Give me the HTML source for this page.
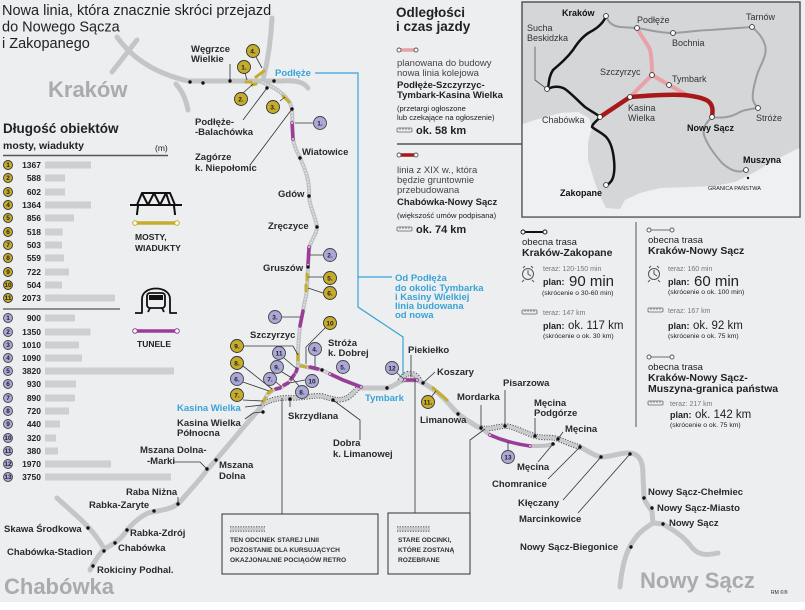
<!DOCTYPE html>
<html><head><meta charset="utf-8"><style>
html,body{margin:0;padding:0;background:#eceef0}
svg{display:block}
text{font-family:"Liberation Sans",sans-serif;fill:#222}
.b{font-weight:bold}
.lb{font-weight:bold;font-size:9.5px;fill:#2a2a2a}
.cy{font-weight:bold;font-size:9.5px;fill:#3aa3d6}
.big{font-weight:bold;font-size:22px;fill:#a9abad}
.sm{font-size:7px;fill:#777}
.lg{font-size:9.5px;fill:#444}
.im{font-size:9px;fill:#333}
.ib{font-size:9px;font-weight:bold;fill:#111}
.bx{font-size:6.6px;font-weight:bold;fill:#333}
.old{fill:none;stroke:#c3c5c7;stroke-width:5;stroke-linecap:round;stroke-linejoin:round}
.nw1{fill:none;stroke:#bfc1c3;stroke-width:4;stroke-linecap:round}
.nw2{fill:none;stroke:#e8e9ea;stroke-width:1.5;stroke-dasharray:1.5 1.5}
.dsA{fill:none;stroke:#555;stroke-width:5.5;stroke-dasharray:1.3 1.3}
.dsB{fill:none;stroke:#c9cbcd;stroke-width:3.6}
.tun{fill:none;stroke:#9a3d98;stroke-width:3.5;stroke-linecap:round}
.brg{fill:none;stroke:#c6ac2c;stroke-width:3;stroke-linecap:round}
.ld{fill:none;stroke:#333;stroke-width:0.8}
.cb{fill:#c6ac2c;stroke:#333;stroke-width:0.9}
.ct{fill:#aaa8d8;stroke:#444;stroke-width:0.9}
.cn{font-size:6.5px;font-weight:bold;text-anchor:middle;fill:#222}
.rn{font-size:8.5px;font-weight:bold;text-anchor:end;fill:#222}
.bar{fill:#cdcfd1}
.dot{fill:#111}
</style></head><body>
<svg width="805" height="610" viewBox="0 0 805 610" xmlns="http://www.w3.org/2000/svg">
<rect width="805" height="610" fill="#eceef0"/>
<rect y="602" width="805" height="8" fill="#ffffff"/>

<!-- Title -->
<text x="2" y="15" font-size="14.5" fill="#333">Nowa linia, która znacznie skróci przejazd</text>
<text x="2" y="31.5" font-size="14.5" fill="#333">do Nowego Sącza</text>
<text x="2" y="48" font-size="14.5" fill="#333">i Zakopanego</text>

<!-- Kraków area roads -->
<path class="old" d="M117,37 C130,55 150,72 188,81 L280,81 C296,80 304,82 308,88"/>
<path class="old" d="M137,40 L112,72" stroke-width="4"/>
<path class="old" d="M176,84 C183,92 186,100 188,110" stroke-width="3.5"/>
<path class="old" d="M272,18 C271,40 268,60 263,80"/>
<text x="48" y="97" class="big">Kraków</text>

<!-- Old line Kasina - Chabówka -->
<path class="old" d="M263,404 C255,415 245,425 237,435 L215,461 L207,470 C200,480 190,490 180,502 C172,510 160,510 148,513 C138,518 130,526 125,533 C120,540 112,545 104,549 C98,556 94,562 90,570"/>
<path class="old" d="M57,498 C70,510 85,522 95,535 C100,542 103,546 104,549"/>

<!-- Old line Tymbark - Nowy Sącz -->
<path class="old" d="M358,388 L387,388 C393,387 398,382 404,380 L417,380 L423,383 C433,388 443,397 450,405 C455,411 460,416 470,422 C476,426 479,428 481,428"/>
<path class="old" d="M580,447 C588,451 595,456 601,457 C612,457 622,452 630,453 C640,454 643,462 643,475 L644,498 C646,505 651,508 652,512 L653,523 L663,524 C673,530 683,536 690,545 C697,555 705,556 718,553"/>
<path class="old" d="M653,523 C645,528 638,533 632,543 C626,552 622,565 620,587"/>

<!-- old sections to be removed (dashed) -->
<path class="dsA" d="M263,404 C270,400 280,397 290,398 C305,398 313,395 322,396 C330,398 338,402 347,398 C352,395 356,390 358,388"/>
<path class="dsB" d="M263,404 C270,400 280,397 290,398 C305,398 313,395 322,396 C330,398 338,402 347,398 C352,395 356,390 358,388"/>
<path class="dsA" d="M400,381 C405,371 415,371 420,381"/>
<path class="dsB" d="M400,381 C405,371 415,371 420,381"/>
<path class="dsA" d="M481,428 C490,430 498,426 506,426 C515,427 525,433 535,436 C545,439 550,436 558,439 C566,442 572,445 580,447"/>
<path class="dsB" d="M481,428 C490,430 498,426 506,426 C515,427 525,433 535,436 C545,439 550,436 558,439 C566,442 572,445 580,447"/>

<!-- New line -->
<g>
<path class="nw1" d="M262,82 C275,88 283,92 290,103 L292,109 L293,139 C295,150 299,155 301,160 C305,170 310,180 309,196 C309,205 315,215 317,227 C317,235 310,240 309,250 L308,267 L307,290 C306,298 304,303 303,311 L300,326 C299,335 298,345 298,357 L298,365"/>
<path class="nw2" d="M262,82 C275,88 283,92 290,103 L292,109 L293,139 C295,150 299,155 301,160 C305,170 310,180 309,196 C309,205 315,215 317,227 C317,235 310,240 309,250 L308,267 L307,290 C306,298 304,303 303,311 L300,326 C299,335 298,345 298,357 L298,365"/>
<path class="nw1" d="M298,365 L307,367 L322,370 L328,373 L343,380 L362,387"/>
<path class="nw2" d="M298,365 L307,367 L322,370 L328,373 L343,380 L362,387"/>
<path class="nw1" d="M298,365 L297,370 L293,377 L288,383 L282,387 L273,390 L267,395 L263,403"/>
<path class="nw2" d="M298,365 L297,370 L293,377 L288,383 L282,387 L273,390 L267,395 L263,403"/>
<path class="nw1" d="M481,428 L490,435 M530,446 C540,446 548,446 553,444"/>
</g>

<!-- tunnels -->
<path class="tun" d="M292,123 L293,139"/>
<path class="tun" d="M309,247 L308,265"/>
<path class="tun" d="M303,311 L300,326"/>
<path class="tun" d="M310,367 L318,369"/>
<path class="tun" d="M330,374 L343,380 L361,387"/>
<path class="tun" d="M297,369 L296,372"/>
<path class="tun" d="M294,375 L291,379"/>
<path class="tun" d="M288,383 L284,385"/>
<path class="tun" d="M280,388 L276,389"/>
<path class="tun" d="M405,380 L417,380"/>
<path class="tun" d="M490,435 Q508,443 530,446"/>
<g fill="#fff" stroke="#9a3d98" stroke-width="0.8">
<circle cx="292" cy="123" r="1.3"/><circle cx="293" cy="139" r="1.3"/>
<circle cx="309" cy="247" r="1.3"/><circle cx="308" cy="265" r="1.3"/>
<circle cx="330" cy="374" r="1.3"/><circle cx="361" cy="387" r="1.3"/>
<circle cx="405" cy="380" r="1.3"/><circle cx="417" cy="380" r="1.3"/>
<circle cx="490" cy="435" r="1.3"/><circle cx="530" cy="446" r="1.3"/>
</g>

<!-- bridges -->
<path class="brg" d="M246,82 L251,82"/>
<path class="brg" d="M256,77 L264,71"/>
<path class="brg" d="M252,85 L256,84"/>
<path class="brg" d="M283,96 L289,102"/>
<path class="brg" d="M307,274 L307,280"/>
<path class="brg" d="M306,285 L306,291"/>
<path class="brg" d="M298,354 L298,360"/>
<path class="brg" d="M301,366 L306,367"/>
<path class="brg" d="M272,390 L268,393"/>
<path class="brg" d="M265,398 L263,402"/>
<path class="brg" d="M433,388 L447,400"/>

<!-- Cyan line -->
<path d="M315,73 L358,73 L358,307 L403,337 L403,375 M358,277 L392,277" fill="none" stroke="#3aa3d6" stroke-width="1.2"/>
<text x="275" y="76" class="cy">Podłęże</text>
<text x="395" y="281" class="cy">Od Podłęża</text>
<text x="395" y="291" class="cy">do okolic Tymbarka</text>
<text x="395" y="300" class="cy">i Kasiny Wielkiej</text>
<text x="395" y="309" class="cy">linia budowana</text>
<text x="395" y="318" class="cy">od nowa</text>

<!-- Leaders -->
<path class="ld" d="M230,64 L230,81 M243,120 L267,88 M250,165 L292,109 M245,407 L262,405 M245,419 L253,413 L263,412 M290,399 L290,407 M360,440 L360,420 L333,400 M411,355 L411,377 M435,372 L423,383 M481,405 L481,428 M505,390 L505,426 M535,418 L535,436 M563,432 L558,439 M538,462 L553,444 M548,479 L580,447 M563,500 L601,457 M578,513 L630,454 M174,462 L200,462 L207,469 M178,497 L178,504 M282,398 L282,514 M415,380 L415,513 M470,513 L470,440 L485,429"/>
<!-- circle leaders -->
<path class="ld" d="M256,57 L262,68 M245,73 L247,80 M243,93 L253,84 M280,101 L285,97 M295,123 L313,123 M310,255 L323,255 M308,277 L323,277 M308,288 L323,293 M282,317 L300,317 M325,328 L306,347 L306,364 M244,346 L293,346 L298,355 M315,356 L315,367 M284,358 L297,369 M282,372 L292,378 M305,380 L289,383 M276,382 L282,387 M299,386 L293,379 M243,382 L269,391 M243,366 L272,389 M243,400 L263,401 M397,373 L404,379 M432,396 L436,391 M508,450 L508,442"/>

<!-- Station dots -->
<g class="dot">
<circle cx="190" cy="82" r="1.7"/><circle cx="203" cy="83" r="1.7"/><circle cx="230" cy="81" r="1.7"/>
<circle cx="267" cy="88" r="1.7"/><circle cx="274" cy="81" r="1.7"/><circle cx="292" cy="109" r="1.7"/>
<circle cx="300" cy="158" r="1.7"/><circle cx="309" cy="196" r="1.7"/><circle cx="317" cy="227" r="1.7"/>
<circle cx="308" cy="267" r="1.7"/><circle cx="322" cy="370" r="1.7"/><circle cx="263" cy="412" r="1.7"/>
<circle cx="290" cy="399" r="1.7"/><circle cx="333" cy="400" r="1.7"/><circle cx="387" cy="388" r="1.7"/>
<circle cx="423" cy="383" r="1.7"/><circle cx="458" cy="414" r="1.7"/><circle cx="481" cy="428" r="1.7"/>
<circle cx="505" cy="426" r="1.7"/><circle cx="535" cy="436" r="1.7"/><circle cx="558" cy="439" r="1.7"/>
<circle cx="553" cy="444" r="1.7"/><circle cx="580" cy="447" r="1.7"/><circle cx="601" cy="457" r="1.7"/>
<circle cx="630" cy="454" r="1.7"/><circle cx="644" cy="498" r="1.7"/><circle cx="652" cy="508" r="1.7"/>
<circle cx="663" cy="524" r="1.7"/><circle cx="631" cy="547" r="1.7"/><circle cx="216" cy="460" r="1.7"/>
<circle cx="207" cy="469" r="1.7"/><circle cx="178" cy="504" r="1.7"/><circle cx="154" cy="511" r="1.7"/>
<circle cx="127" cy="530" r="1.7"/><circle cx="88" cy="528" r="1.7"/><circle cx="115" cy="543" r="1.7"/>
<circle cx="104" cy="551" r="1.7"/><circle cx="93" cy="566" r="1.7"/>
</g>

<!-- Station labels -->
<text x="191" y="52" class="lb">Węgrzce</text>
<text x="191" y="62" class="lb">Wielkie</text>
<text x="195" y="125" class="lb">Podłęże-</text>
<text x="195" y="135" class="lb">-Balachówka</text>
<text x="195" y="160" class="lb">Zagórze</text>
<text x="195" y="171" class="lb">k. Niepołomic</text>
<text x="302" y="155" class="lb">Wiatowice</text>
<text x="278" y="197" class="lb">Gdów</text>
<text x="268" y="229" class="lb">Zręczyce</text>
<text x="263" y="271" class="lb">Gruszów</text>
<text x="250" y="338" class="lb">Szczyrzyc</text>
<text x="328" y="346" class="lb">Stróża</text>
<text x="328" y="356" class="lb">k. Dobrej</text>
<text x="177" y="411" class="cy">Kasina Wielka</text>
<text x="177" y="426" class="lb">Kasina Wielka</text>
<text x="177" y="436" class="lb">Północna</text>
<text x="288" y="419" class="lb">Skrzydlana</text>
<text x="333" y="446" class="lb">Dobra</text>
<text x="333" y="457" class="lb">k. Limanowej</text>
<text x="365" y="401" class="cy">Tymbark</text>
<text x="408" y="353" class="lb">Piekiełko</text>
<text x="437" y="375" class="lb">Koszary</text>
<text x="420" y="423" class="lb">Limanowa</text>
<text x="457" y="400" class="lb">Mordarka</text>
<text x="503" y="386" class="lb">Pisarzowa</text>
<text x="534" y="406" class="lb">Męcina</text>
<text x="534" y="416" class="lb">Podgórze</text>
<text x="565" y="432" class="lb">Męcina</text>
<text x="517" y="470" class="lb">Męcina</text>
<text x="492" y="487" class="lb">Chomranice</text>
<text x="518" y="506" class="lb">Kłęczany</text>
<text x="519" y="522" class="lb">Marcinkowice</text>
<text x="520" y="550" class="lb">Nowy Sącz-Biegonice</text>
<text x="648" y="495" class="lb">Nowy Sącz-Chełmiec</text>
<text x="657" y="511" class="lb">Nowy Sącz-Miasto</text>
<text x="669" y="526" class="lb">Nowy Sącz</text>
<text x="140" y="453" class="lb">Mszana Dolna-</text>
<text x="147" y="464" class="lb">-Marki</text>
<text x="219" y="468" class="lb">Mszana</text>
<text x="219" y="479" class="lb">Dolna</text>
<text x="126" y="495" class="lb">Raba Niżna</text>
<text x="89" y="508" class="lb">Rabka-Zaryte</text>
<text x="130" y="536" class="lb">Rabka-Zdrój</text>
<text x="4" y="532" class="lb">Skawa Środkowa</text>
<text x="118" y="551" class="lb">Chabówka</text>
<text x="7" y="555" class="lb">Chabówka-Stadion</text>
<text x="97" y="573" class="lb">Rokiciny Podhal.</text>
<text x="4" y="594" class="big">Chabówka</text>
<text x="640" y="588" class="big">Nowy Sącz</text>
<text x="771" y="594" font-size="5" fill="#444">RM ©®</text>

<!-- Map circles: bridges -->
<g>
<circle class="cb" cx="253" cy="51" r="6.5"/><text class="cn" x="253" y="53.5">4.</text>
<circle class="cb" cx="244" cy="67" r="6.5"/><text class="cn" x="244" y="69.5">1.</text>
<circle class="cb" cx="241" cy="99" r="6.5"/><text class="cn" x="241" y="101.5">2.</text>
<circle class="cb" cx="273" cy="107" r="6.5"/><text class="cn" x="273" y="109.5">3.</text>
<circle class="cb" cx="330" cy="278" r="6.5"/><text class="cn" x="330" y="280.5">5.</text>
<circle class="cb" cx="330" cy="293" r="6.5"/><text class="cn" x="330" y="295.5">6.</text>
<circle class="cb" cx="330" cy="323" r="6.5"/><text class="cn" x="330" y="325.5">10</text>
<circle class="cb" cx="237" cy="346" r="6.5"/><text class="cn" x="237" y="348.5">9.</text>
<circle class="cb" cx="237" cy="363" r="6.5"/><text class="cn" x="237" y="365.5">8.</text>
<circle class="cb" cx="237" cy="395" r="6.5"/><text class="cn" x="237" y="397.5">7.</text>
<circle class="cb" cx="428" cy="402" r="6.5"/><text class="cn" x="428" y="404.5">11.</text>
</g>
<!-- Map circles: tunnels -->
<g>
<circle class="ct" cx="320" cy="123" r="6.5"/><text class="cn" x="320" y="125.5">1.</text>
<circle class="ct" cx="330" cy="255" r="6.5"/><text class="cn" x="330" y="257.5">2.</text>
<circle class="ct" cx="275" cy="317" r="6.5"/><text class="cn" x="275" y="319.5">3.</text>
<circle class="ct" cx="315" cy="349" r="6.5"/><text class="cn" x="315" y="351.5">4.</text>
<circle class="ct" cx="343" cy="367" r="6.5"/><text class="cn" x="343" y="369.5">5.</text>
<circle class="ct" cx="279" cy="353" r="6.5"/><text class="cn" x="279" y="355.5">11</text>
<circle class="ct" cx="277" cy="367" r="6.5"/><text class="cn" x="277" y="369.5">9.</text>
<circle class="ct" cx="312" cy="381" r="6.5"/><text class="cn" x="312" y="383.5">10</text>
<circle class="ct" cx="270" cy="379" r="6.5"/><text class="cn" x="270" y="381.5">7.</text>
<circle class="ct" cx="302" cy="392" r="6.5"/><text class="cn" x="302" y="394.5">8.</text>
<circle class="ct" cx="237" cy="379" r="6.5"/><text class="cn" x="237" y="381.5">6.</text>
<circle class="ct" cx="392" cy="368" r="6.5"/><text class="cn" x="392" y="370.5">12</text>
<circle class="ct" cx="508" cy="457" r="6.5"/><text class="cn" x="508" y="459.5">13</text>
</g>

<!-- Boxes -->
<rect x="222" y="514" width="156" height="60" fill="#eceef0" stroke="#333" stroke-width="1"/>
<path class="dsA" d="M230,529 L265,529" stroke-width="4"/>
<path class="dsB" d="M230,529 L265,529" stroke-width="2.4"/>
<text x="230" y="542" class="bx">TEN ODCINEK STAREJ LINII</text>
<text x="230" y="552" class="bx">POZOSTANIE DLA KURSUJĄCYCH</text>
<text x="230" y="562" class="bx">OKAZJONALNIE POCIĄGÓW RETRO</text>
<rect x="388" y="513" width="82" height="61" fill="#eceef0" stroke="#333" stroke-width="1"/>
<path class="dsA" d="M397,529 L430,529" stroke-width="4"/>
<path class="dsB" d="M397,529 L430,529" stroke-width="2.4"/>
<text x="398" y="542" class="bx">STARE ODCINKI,</text>
<text x="398" y="552" class="bx">KTÓRE ZOSTANĄ</text>
<text x="398" y="562" class="bx">ROZEBRANE</text>

<!-- Bar chart -->
<text x="3" y="133" font-size="13.5" class="b" fill="#111">Długość obiektów</text>
<text x="3" y="149" font-size="10.5" class="b" fill="#333">mosty, wiadukty</text>
<text x="155" y="151" font-size="8.5" fill="#333">(m)</text>
<line x1="3" y1="155.5" x2="168" y2="155.5" stroke="#555" stroke-width="1.5"/>
<line x1="3" y1="309" x2="120" y2="309" stroke="#555" stroke-width="1.2"/>
<g>
<circle class="cb" cx="8" cy="165" r="4.5"/><text class="cn" font-size="5" x="8" y="167">1</text><text class="rn" x="41" y="168">1367</text><rect class="bar" x="45" y="161.5" width="46" height="7"/>
<circle class="cb" cx="8" cy="178" r="4.5"/><text class="cn" font-size="5" x="8" y="180">2</text><text class="rn" x="41" y="181">588</text><rect class="bar" x="45" y="174.5" width="20" height="7"/>
<circle class="cb" cx="8" cy="192" r="4.5"/><text class="cn" font-size="5" x="8" y="194">3</text><text class="rn" x="41" y="195">602</text><rect class="bar" x="45" y="188.5" width="20" height="7"/>
<circle class="cb" cx="8" cy="205" r="4.5"/><text class="cn" font-size="5" x="8" y="207">4</text><text class="rn" x="41" y="208">1364</text><rect class="bar" x="45" y="201.5" width="46" height="7"/>
<circle class="cb" cx="8" cy="218" r="4.5"/><text class="cn" font-size="5" x="8" y="220">5</text><text class="rn" x="41" y="221">856</text><rect class="bar" x="45" y="214.5" width="29" height="7"/>
<circle class="cb" cx="8" cy="232" r="4.5"/><text class="cn" font-size="5" x="8" y="234">6</text><text class="rn" x="41" y="235">518</text><rect class="bar" x="45" y="228.5" width="17.5" height="7"/>
<circle class="cb" cx="8" cy="245" r="4.5"/><text class="cn" font-size="5" x="8" y="247">7</text><text class="rn" x="41" y="248">503</text><rect class="bar" x="45" y="241.5" width="17" height="7"/>
<circle class="cb" cx="8" cy="258" r="4.5"/><text class="cn" font-size="5" x="8" y="260">8</text><text class="rn" x="41" y="261">559</text><rect class="bar" x="45" y="254.5" width="19" height="7"/>
<circle class="cb" cx="8" cy="272" r="4.5"/><text class="cn" font-size="5" x="8" y="274">9</text><text class="rn" x="41" y="275">722</text><rect class="bar" x="45" y="268.5" width="24" height="7"/>
<circle class="cb" cx="8" cy="285" r="4.5"/><text class="cn" font-size="4.5" x="8" y="287">10</text><text class="rn" x="41" y="288">504</text><rect class="bar" x="45" y="281.5" width="17" height="7"/>
<circle class="cb" cx="8" cy="298" r="4.5"/><text class="cn" font-size="4.5" x="8" y="300">11</text><text class="rn" x="41" y="301">2073</text><rect class="bar" x="45" y="294.5" width="70" height="7"/>
</g>
<g>
<circle class="ct" cx="8" cy="318" r="4.5"/><text class="cn" font-size="5" x="8" y="320">1</text><text class="rn" x="41" y="321">900</text><rect class="bar" x="45" y="314.5" width="30" height="7"/>
<circle class="ct" cx="8" cy="332" r="4.5"/><text class="cn" font-size="5" x="8" y="334">2</text><text class="rn" x="41" y="335">1350</text><rect class="bar" x="45" y="328.5" width="45.5" height="7"/>
<circle class="ct" cx="8" cy="345" r="4.5"/><text class="cn" font-size="5" x="8" y="347">3</text><text class="rn" x="41" y="348">1010</text><rect class="bar" x="45" y="341.5" width="34" height="7"/>
<circle class="ct" cx="8" cy="358" r="4.5"/><text class="cn" font-size="5" x="8" y="360">4</text><text class="rn" x="41" y="361">1090</text><rect class="bar" x="45" y="354.5" width="37" height="7"/>
<circle class="ct" cx="8" cy="371" r="4.5"/><text class="cn" font-size="5" x="8" y="373">5</text><text class="rn" x="41" y="374">3820</text><rect class="bar" x="45" y="367.5" width="129" height="7"/>
<circle class="ct" cx="8" cy="384" r="4.5"/><text class="cn" font-size="5" x="8" y="386">6</text><text class="rn" x="41" y="387">930</text><rect class="bar" x="45" y="380.5" width="31" height="7"/>
<circle class="ct" cx="8" cy="398" r="4.5"/><text class="cn" font-size="5" x="8" y="400">7</text><text class="rn" x="41" y="401">890</text><rect class="bar" x="45" y="394.5" width="30" height="7"/>
<circle class="ct" cx="8" cy="411" r="4.5"/><text class="cn" font-size="5" x="8" y="413">8</text><text class="rn" x="41" y="414">720</text><rect class="bar" x="45" y="407.5" width="24" height="7"/>
<circle class="ct" cx="8" cy="424" r="4.5"/><text class="cn" font-size="5" x="8" y="426">9</text><text class="rn" x="41" y="427">440</text><rect class="bar" x="45" y="420.5" width="15" height="7"/>
<circle class="ct" cx="8" cy="438" r="4.5"/><text class="cn" font-size="4.5" x="8" y="440">10</text><text class="rn" x="41" y="441">320</text><rect class="bar" x="45" y="434.5" width="11" height="7"/>
<circle class="ct" cx="8" cy="451" r="4.5"/><text class="cn" font-size="4.5" x="8" y="453">11</text><text class="rn" x="41" y="454">380</text><rect class="bar" x="45" y="447.5" width="13" height="7"/>
<circle class="ct" cx="8" cy="464" r="4.5"/><text class="cn" font-size="4.5" x="8" y="466">12</text><text class="rn" x="41" y="467">1970</text><rect class="bar" x="45" y="460.5" width="66" height="7"/>
<circle class="ct" cx="8" cy="477" r="4.5"/><text class="cn" font-size="4.5" x="8" y="479">13</text><text class="rn" x="41" y="480">3750</text><rect class="bar" x="45" y="473.5" width="126" height="7"/>
</g>

<!-- Bridge icon -->
<g fill="none" stroke="#111" stroke-width="2" stroke-linejoin="round">
<path d="M130,205 L182,205"/>
<path d="M137,205 L142,193 L170,193 L175,205"/>
<path d="M142,193 L148,205 L154,193 L160,205 L166,193 L170,205"/>
<path d="M138,205 C138,209 137,211 137,215 M174,205 C174,209 175,211 175,215"/>
</g>
<line x1="135" y1="223" x2="177" y2="223" stroke="#c6ac2c" stroke-width="3.5"/>
<circle cx="135" cy="223" r="2.3" fill="#fff" stroke="#c6ac2c" stroke-width="1"/>
<circle cx="177" cy="223" r="2.3" fill="#fff" stroke="#c6ac2c" stroke-width="1"/>
<text x="135" y="240" font-size="8.5" class="b" fill="#333">MOSTY,</text>
<text x="135" y="251" font-size="8.5" class="b" fill="#333">WIADUKTY</text>

<!-- Tunnel icon -->
<g fill="none" stroke="#111" stroke-width="1.8" stroke-linejoin="round">
<path d="M135,313 L142,313 L142,299 C142,285 170,285 170,299 L170,313 L177,313"/>
<rect x="147" y="293" width="18" height="15" rx="3"/>
<path d="M149,298 L163,298 M150,308 L148,312 M162,308 L164,312"/>
</g>
<rect x="149" y="295" width="14" height="5" fill="#111"/>
<line x1="135" y1="331" x2="177" y2="331" stroke="#9a3d98" stroke-width="3.5"/>
<circle cx="135" cy="331" r="2.3" fill="#fff" stroke="#9a3d98" stroke-width="1"/>
<circle cx="177" cy="331" r="2.3" fill="#fff" stroke="#9a3d98" stroke-width="1"/>
<text x="137" y="347" font-size="8.5" class="b" fill="#333">TUNELE</text>

<!-- Legend -->
<text x="396" y="17" font-size="13.5" class="b" fill="#111">Odległości</text>
<text x="396" y="31" font-size="13.5" class="b" fill="#111">i czas jazdy</text>
<line x1="399" y1="50" x2="416" y2="50" stroke="#e8a1a6" stroke-width="3.5"/>
<circle cx="399" cy="50" r="2" fill="#fff" stroke="#555" stroke-width="0.9"/>
<circle cx="416" cy="50" r="2" fill="#fff" stroke="#555" stroke-width="0.9"/>
<text x="397" y="66" class="lg">planowana do budowy</text>
<text x="397" y="76" class="lg">nowa linia kolejowa</text>
<text x="397" y="88" font-size="9.5" class="b" fill="#111">Podłęże-Szczyrzyc-</text>
<text x="397" y="98" font-size="9.5" class="b" fill="#111">Tymbark-Kasina Wielka</text>
<text x="397" y="111" font-size="7.6" fill="#777">(przetargi ogłoszone</text>
<text x="397" y="120" font-size="7.6" fill="#777">lub czekające na ogłoszenie)</text>
<g fill="none" stroke="#666" stroke-width="0.8"><rect x="397" y="128" width="15" height="4" rx="1"/><path d="M400,128 v2 M403,128 v2 M406,128 v2 M409,128 v2"/></g>
<text x="416" y="134" font-size="11" class="b" fill="#222">ok. 58 km</text>
<line x1="397" y1="144" x2="522" y2="144" stroke="#555" stroke-width="1.5"/>
<line x1="399" y1="155" x2="416" y2="155" stroke="#a81818" stroke-width="3.5"/>
<circle cx="399" cy="155" r="2" fill="#fff" stroke="#555" stroke-width="0.9"/>
<circle cx="416" cy="155" r="2" fill="#fff" stroke="#555" stroke-width="0.9"/>
<text x="397" y="173" class="lg">linia z XIX w., która</text>
<text x="397" y="183" class="lg">będzie gruntownie</text>
<text x="397" y="193" class="lg">przebudowana</text>
<text x="397" y="205" font-size="9.5" class="b" fill="#111">Chabówka-Nowy Sącz</text>
<text x="397" y="218" font-size="7.6" fill="#777">(większość umów podpisana)</text>
<g fill="none" stroke="#666" stroke-width="0.8"><rect x="397" y="227" width="15" height="4" rx="1"/><path d="M400,227 v2 M403,227 v2 M406,227 v2 M409,227 v2"/></g>
<text x="416" y="233" font-size="11" class="b" fill="#222">ok. 74 km</text>

<!-- Inset map -->
<rect x="522" y="2" width="278" height="215" fill="#d5d6d8" stroke="#555" stroke-width="1.5"/>
<path d="M522.8,124 L535,120 L560,113 L578,112 L589,118 L592,128 L588,142 L588,160 L594,180 L600,196 L606,208 L620,209 L625,200 L640,193 L660,188 L690,187 L715,186 L735,182 L755,172 L770,163 L785,155 L799.2,148 L799.2,216.2 L522.8,216.2 Z" fill="#eef0f1"/>
<g fill="none" stroke-linecap="round" stroke-linejoin="round">
<path stroke="#9a9c9e" stroke-width="2" d="M606,16 C608,22 612,26 620,27 L637,28 C650,30 660,33 673,33 C690,32 700,30 710,30 L752,27 C758,32 763,38 765,45 C768,55 760,65 757,75 C754,85 752,95 753,100 C754,104 756,106 758,108 M758,108 C750,109 744,110 740,112 C733,116 725,119 712,117 M712,117 C707,122 702,127 704,135 C707,145 715,155 722,163 C730,170 738,174 746,170"/>
<path stroke="#111" stroke-width="2.5" d="M606,16 C604,22 598,28 590,32 C583,36 578,42 573,50 C567,58 560,64 553,70 C549,76 549,82 548,89 C553,86 560,86 565,89 C572,94 577,100 585,107 C592,112 597,114 600,117 C597,121 592,124 592,127 C597,131 604,134 607,138 C611,143 613,150 614,160 C615,170 614,176 612,180 C610,183 608,185 606,185"/>
<path stroke="#e8a1a6" stroke-width="4" d="M637,28 C642,38 648,44 650,50 C652,58 652,67 652,75 L669,85 L687,95 M652,75 L630,97"/>
<path stroke="#a81818" stroke-width="4.5" d="M600,117 L630,97 C645,96 665,94 683,95 C695,96 703,98 708,101 C713,105 713,110 712,117"/>
<path stroke="#555" stroke-width="0.8" d="M535,47 L535,80 L547,89"/>
</g>
<g fill="#fff" stroke="#333" stroke-width="0.9">
<circle cx="606" cy="16" r="2.4"/><circle cx="637" cy="28" r="2.4"/><circle cx="673" cy="33" r="2.4"/>
<circle cx="752" cy="27" r="2.4"/><circle cx="652" cy="75" r="2.4"/><circle cx="669" cy="85" r="2.4"/>
<circle cx="547" cy="89" r="2.4"/><circle cx="630" cy="97" r="2.4"/><circle cx="600" cy="117" r="2.4"/>
<circle cx="712" cy="117" r="2.4"/><circle cx="758" cy="108" r="2.4"/><circle cx="746" cy="170" r="2.4"/>
<circle cx="606" cy="185" r="2.4"/>
</g>
<circle cx="748" cy="178" r="1.2" fill="#111"/>
<text x="562" y="16" class="ib">Kraków</text>
<text x="527" y="31" class="im">Sucha</text>
<text x="527" y="41" class="im">Beskidzka</text>
<text x="637" y="23" class="im">Podłęże</text>
<text x="746" y="20" class="im">Tarnów</text>
<text x="672" y="46" class="im">Bochnia</text>
<text x="600" y="75" class="im">Szczyrzyc</text>
<text x="672" y="82" class="im">Tymbark</text>
<text x="628" y="111" class="im">Kasina</text>
<text x="628" y="121" class="im">Wielka</text>
<text x="542" y="123" class="im">Chabówka</text>
<text x="687" y="131" class="ib">Nowy Sącz</text>
<text x="756" y="121" class="im">Stróże</text>
<text x="743" y="163" class="ib">Muszyna</text>
<text x="708" y="190" font-size="5.5" fill="#666">GRANICA PAŃSTWA</text>
<text x="560" y="196" class="ib">Zakopane</text>

<!-- Travel times -->
<line x1="636" y1="222" x2="636" y2="427" stroke="#555" stroke-width="1"/>
<!-- left col -->
<line x1="523" y1="232" x2="545" y2="232" stroke="#111" stroke-width="2"/>
<circle cx="523" cy="232" r="2" fill="#fff" stroke="#111" stroke-width="0.9"/><circle cx="545" cy="232" r="2" fill="#fff" stroke="#111" stroke-width="0.9"/>
<text x="522" y="245" font-size="9.5" fill="#333">obecna trasa</text>
<text x="522" y="256" font-size="10.5" class="b" fill="#111">Kraków-Zakopane</text>
<g fill="none" stroke="#555" stroke-width="1"><circle cx="528" cy="274" r="5.5"/><path d="M528,270 L528,274 L531,276 M523,268 L525,266 M533,268 L531,266 M524,280 L522,282 M532,280 L534,282"/></g>
<text x="543" y="271" class="sm" font-size="7.8">teraz: 120-150 min</text>
<text x="543" y="285" font-size="9" class="b" fill="#111">plan:</text>
<text x="569" y="286" font-size="15" fill="#111">90 min</text>
<text x="542" y="295" font-size="6.8" fill="#777">(skrócenie o 30-60 min)</text>
<g fill="none" stroke="#666" stroke-width="0.8"><rect x="522" y="310" width="15" height="4" rx="1"/><path d="M525,310 v2 M528,310 v2 M531,310 v2 M534,310 v2"/></g>
<text x="543" y="315" class="sm" font-size="7.8">teraz: 147 km</text>
<text x="543" y="329" font-size="9" class="b" fill="#111">plan:</text>
<text x="568" y="329" font-size="11.5" fill="#111">ok. 117 km</text>
<text x="543" y="338" font-size="6.8" fill="#777">(skrócenie o ok. 30 km)</text>
<!-- right col -->
<line x1="649" y1="230" x2="672" y2="230" stroke="#999" stroke-width="1.5"/>
<circle cx="649" cy="230" r="2" fill="#fff" stroke="#555" stroke-width="0.9"/><circle cx="672" cy="230" r="2" fill="#fff" stroke="#555" stroke-width="0.9"/>
<text x="648" y="243" font-size="9.5" fill="#333">obecna trasa</text>
<text x="648" y="254" font-size="10.5" class="b" fill="#111">Kraków-Nowy Sącz</text>
<g fill="none" stroke="#555" stroke-width="1"><circle cx="654" cy="274" r="5.5"/><path d="M654,270 L654,274 L657,276 M649,268 L651,266 M659,268 L657,266 M650,280 L648,282 M658,280 L660,282"/></g>
<text x="668" y="271" class="sm" font-size="7.8">teraz: 160 min</text>
<text x="668" y="285" font-size="9" class="b" fill="#111">plan:</text>
<text x="694" y="286" font-size="15" fill="#111">60 min</text>
<text x="668" y="294" font-size="6.8" fill="#777">(skrócenie o ok. 100 min)</text>
<g fill="none" stroke="#666" stroke-width="0.8"><rect x="648" y="308" width="15" height="4" rx="1"/><path d="M651,308 v2 M654,308 v2 M657,308 v2 M660,308 v2"/></g>
<text x="668" y="313" class="sm" font-size="7.8">teraz: 167 km</text>
<text x="668" y="329" font-size="9" class="b" fill="#111">plan:</text>
<text x="693" y="329" font-size="11.5" fill="#111">ok. 92 km</text>
<text x="668" y="338" font-size="6.8" fill="#777">(skrócenie o ok. 75 km)</text>
<line x1="649" y1="357" x2="672" y2="357" stroke="#999" stroke-width="1.5"/>
<circle cx="649" cy="357" r="2" fill="#fff" stroke="#555" stroke-width="0.9"/><circle cx="672" cy="357" r="2" fill="#fff" stroke="#555" stroke-width="0.9"/>
<text x="648" y="370" font-size="9.5" fill="#333">obecna trasa</text>
<text x="648" y="381" font-size="10.5" class="b" fill="#111">Kraków-Nowy Sącz-</text>
<text x="648" y="392" font-size="10.5" class="b" fill="#111">Muszyna-granica państwa</text>
<g fill="none" stroke="#666" stroke-width="0.8"><rect x="648" y="401" width="15" height="4" rx="1"/><path d="M651,401 v2 M654,401 v2 M657,401 v2 M660,401 v2"/></g>
<text x="670" y="406" class="sm" font-size="7.8">teraz: 217 km</text>
<text x="670" y="418" font-size="9" class="b" fill="#111">plan:</text>
<text x="695" y="418" font-size="11.5" fill="#111">ok. 142 km</text>
<text x="670" y="427" font-size="6.8" fill="#777">(skrócenie o ok. 75 km)</text>
</svg>
</body></html>
